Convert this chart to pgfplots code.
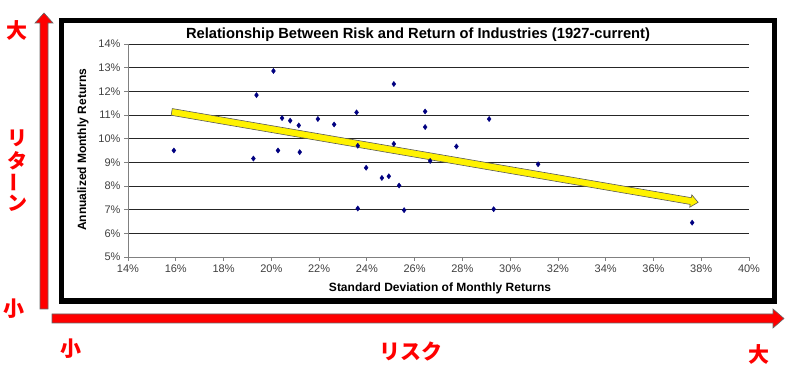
\documentclass[border=0pt]{standalone}
\usepackage{pgfplots}
\pgfplotsset{compat=1.18}
\usepackage{graphicx}
\usepackage{fontspec}
\setmainfont{Liberation Sans}
\newfontfamily\jp{Noto Sans CJK JP}
\usetikzlibrary{calc}
\definecolor{navy}{HTML}{000080}
\definecolor{jred}{HTML}{FF0000}
\begin{document}
\begin{tikzpicture}[x=1pt,y=1pt]
\useasboundingbox (0,0) rectangle (789,371);
% outer frame
\draw[line width=5.5pt] (61.25,69.75) rectangle (774.5,350.25);
% red arrows
\draw[fill=jred, draw=black!60, line width=0.6pt] (40,62)--(48,62)--(48,348)--(53,348)--(44,358)--(35,348)--(40,348)--cycle;
\draw[fill=jred, draw=black!60, line width=0.6pt] (52,48)--(773,48)--(773,43)--(784,52.5)--(773,62)--(773,57)--(52,57)--cycle;
% Japanese labels
\node[text=jred, font=\jp\bfseries\fontsize{21}{21}\selectfont] at (17,341) {大};
\node[text=jred, font=\jp\bfseries\fontsize{21}{21}\selectfont] at (14,62) {小};
\node[text=jred, font=\jp\bfseries\fontsize{20}{20}\selectfont] at (17,233) {リ};
\node[text=jred, font=\jp\bfseries\fontsize{20}{20}\selectfont] at (17,210) {タ};
\node[text=jred, font=\jp\bfseries\fontsize{20}{20}\selectfont, rotate=90] at (17,188) {ー};
\node[text=jred, font=\jp\bfseries\fontsize{20}{20}\selectfont] at (17,168) {ン};
\node[text=jred, font=\jp\bfseries\fontsize{21}{21}\selectfont] at (71,22) {小};
\node[text=jred, font=\jp\bfseries\fontsize{21}{21}\selectfont] at (411,19) {リスク};
\node[text=jred, font=\jp\bfseries\fontsize{21}{21}\selectfont] at (759,17) {大};
% titles
\node[font=\bfseries\fontsize{14.7}{14.7}\selectfont] at (418,336) {Relationship Between Risk and Return of Industries (1927-current)};
\node[font=\bfseries\fontsize{12}{12}\selectfont] at (440,83) {Standard Deviation of Monthly Returns};
\node[font=\bfseries\fontsize{12}{12}\selectfont, rotate=90] at (83,221) {Annualized Monthly Returns};
\begin{axis}[
  at={(128pt,114pt)}, anchor=south west,
  scale only axis, width=621pt, height=213pt,
  xmin=14, xmax=40, ymin=5, ymax=14,
  axis lines=left, axis line style={-, draw=black!50, line width=0.8pt},
  xtick={14,16,...,40}, ytick={5,6,...,14},
  xticklabels={14\%,16\%,18\%,20\%,22\%,24\%,26\%,28\%,30\%,32\%,34\%,36\%,38\%,40\%},
  yticklabels={5\%,6\%,7\%,8\%,9\%,10\%,11\%,12\%,13\%,14\%},
  tick align=outside, major tick length=4pt,
  tick style={draw=black!50, line width=0.8pt},
  ymajorgrids, grid style={black!85, line width=0.9pt},
  ticklabel style={font=\fontsize{11}{11}\selectfont, text=black!75},
  clip=false,
]
\addplot[only marks, mark=diamond*, mark size=2.6pt, navy] coordinates {
(15.92,9.50) (19.25,9.16) (19.38,11.84) (20.09,12.86) (20.28,9.50)
(20.45,10.87) (20.79,10.76) (21.15,10.56) (21.19,9.43) (21.95,10.83)
(22.63,10.60) (23.57,11.11) (23.62,9.70) (23.97,8.77) (23.62,7.05)
(24.63,8.34) (24.92,8.41) (25.13,12.31) (25.13,9.78) (25.35,8.02)
(25.56,6.98) (26.44,11.15) (26.44,10.49) (26.65,9.06) (27.75,9.67)
(29.12,10.83) (29.31,7.02) (31.17,8.92) (37.62,6.45)
};
\coordinate (A) at (axis cs:15.83,11.13);
\coordinate (B) at (axis cs:37.87,7.31);
\coordinate (C) at ($(B)!7.5pt!(A)$);
\draw[fill=yellow, draw=black!65, line width=0.6pt]
  ($(A)!3.4pt!90:(B)$) -- ($(C)!3.4pt!-90:(A)$) -- ($(C)!6.3pt!-90:(A)$) -- (B)
  -- ($(C)!6.3pt!90:(A)$) -- ($(C)!3.4pt!90:(A)$) -- ($(A)!3.4pt!-90:(B)$) -- cycle;
\end{axis}
\end{tikzpicture}
\end{document}
